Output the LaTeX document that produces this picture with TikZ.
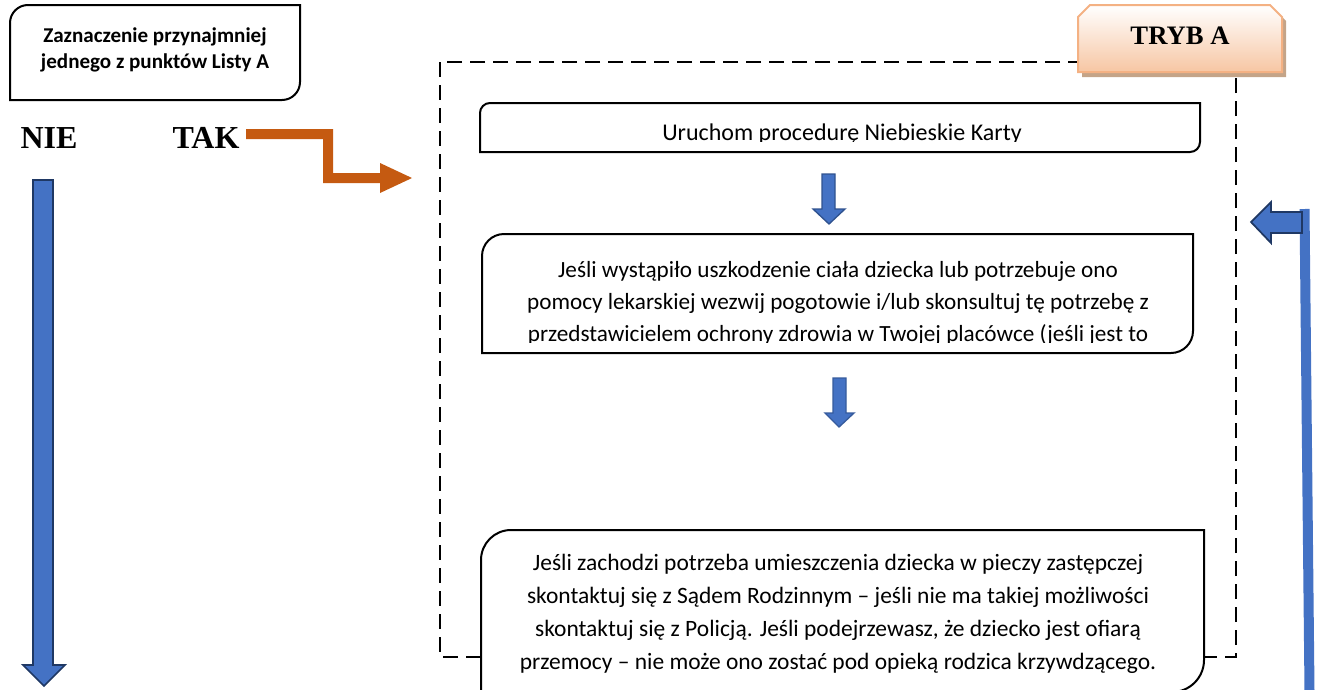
\documentclass[tikz,border=0pt]{standalone}
\usepackage{fontspec}
\setmainfont{Carlito}
\newfontfamily\tnr{Liberation Serif}
\definecolor{arrowblue}{HTML}{4472C4}
\definecolor{arrowdark}{HTML}{1F3864}
\definecolor{arrowmid}{HTML}{2F528F}
\definecolor{orangearr}{HTML}{C55A11}
\definecolor{peach}{HTML}{F7C6A3}
\definecolor{peachborder}{HTML}{F4B183}
\definecolor{shadowcol}{HTML}{C4A488}
\tikzset{
  boxline/.style={draw=black, line width=1.5pt, fill=white},
  bigarrow/.style={fill=arrowblue, draw=arrowdark, line width=1.3pt, line join=miter},
  smallarrow/.style={fill=arrowblue, draw=arrowmid, line width=1pt, line join=miter},
  txt/.style={align=center, inner sep=0pt},
  dashframe/.style={draw=black, line width=1.5pt, dash pattern=on 11.25pt off 6pt},
  yesno/.style={inner sep=0pt, font=\tnr\fontsize{24}{28}\selectfont\bfseries}
}
\begin{document}
\begin{tikzpicture}[x=0.75pt,y=-0.75pt]
\useasboundingbox (0,0) rectangle (1333,689);
\clip (0,0) rectangle (1333,689);

% dashed frame
\draw[dashframe] (440,62) rectangle (1236,657);

% top-left box
\draw[boxline] (10,100) -- (10,23) .. controls (10,13.06) and (18.06,5) .. (28,5) -- (300,5) -- (300,82) .. controls (300,91.94) and (291.94,100) .. (282,100) -- cycle;
\node[txt, font=\bfseries\fontsize{15.8}{19.5}\selectfont] (lista) at (155,50) {Zaznaczenie przynajmniej\\jednego z punktów Listy A};

% NIE / TAK
\node[yesno] (nie) at (49,138) {NIE};
\node[yesno] (tak) at (206,138) {TAK};

% orange arrow
\fill[orangearr] (246,129) -- (333,129) -- (333,173) -- (380,173) -- (380,163) -- (412,178) -- (380,193) -- (380,183) -- (323,183) -- (323,139) -- (246,139) -- cycle;

% left big blue arrow
\draw[bigarrow] (33,180) -- (53,180) -- (53,665) -- (65,665) -- (44,686) -- (23,665) -- (33,665) -- cycle;

% TRYB A label
\fill[shadowcol] (1082,77) -- (1082,21) -- (1094,9) -- (1274,9) -- (1286,21) -- (1286,77) -- cycle;
\path[draw=peachborder, line width=1.5pt, top color=white, bottom color=peach] (1078,72) -- (1078,17) -- (1090,5) -- (1270,5) -- (1282,17) -- (1282,72) -- cycle;
\node[inner sep=0pt, font=\tnr\fontsize{20}{24}\selectfont\bfseries] (tryb) at (1180,36) {TRYB A};

% box: Uruchom
\draw[boxline] (480,152) -- (480,113) .. controls (480,107.48) and (484.48,103) .. (490,103) -- (1200,103) -- (1200,142) .. controls (1200,147.52) and (1195.52,152) .. (1190,152) -- cycle;
\begin{scope}
\clip (480,103) rectangle (1200,141);
\node[txt, anchor=base, font=\fontsize{18}{22}\selectfont] (uruchom) at (842,140.5) {Uruchom procedurę Niebieskie Karty};
\end{scope}

% small arrow 1
\draw[smallarrow] (822,174) -- (835,174) -- (835,209) -- (845,209) -- (829,224) -- (813,209) -- (822,209) -- cycle;

% box: Jeśli wystąpiło
\draw[boxline] (482,353) -- (482,256) .. controls (482,243.86) and (491.86,234) .. (504,234) -- (1193,234) -- (1193,331) .. controls (1193,343.14) and (1183.14,353) .. (1171,353) -- cycle;
\begin{scope}
\clip (482,234) rectangle (1193,342);
\node[txt, font=\fontsize{17.4}{24}\selectfont] (uszkodzenie) at (838,303) {Jeśli wystąpiło uszkodzenie ciała dziecka lub potrzebuje ono\\pomocy lekarskiej wezwij pogotowie i/lub skonsultuj tę potrzebę z\\przedstawicielem ochrony zdrowia w Twojej placówce (jeśli jest to};
\end{scope}

% small arrow 2
\draw[smallarrow, draw=arrowblue!80!black] (833,378) -- (846,378) -- (846,413) -- (854,413) -- (839,427) -- (825,413) -- (833,413) -- cycle;

% box: Jeśli zachodzi
\draw[boxline] (481,692) -- (481,560) .. controls (481,543.44) and (494.44,530) .. (511,530) -- (1204,530) -- (1204,660) .. controls (1204,677.66) and (1189.66,692) .. (1172,692) -- cycle;
\node[txt, font=\fontsize{17.6}{24.75}\selectfont] (piecza) at (838,614) {Jeśli zachodzi potrzeba umieszczenia dziecka w pieczy zastępczej\\skontaktuj się z Sądem Rodzinnym – jeśli nie ma takiej możliwości\\skontaktuj się z Policją. Jeśli podejrzewasz, że dziecko jest ofiarą\\przemocy – nie może ono zostać pod opieką rodzica krzywdzącego.};

% right return line and arrow
\coordinate (rtop) at (1304.5,209);
\coordinate (rbot) at (1309.5,692);
\draw[arrowblue, line width=7.5pt] (rbot) -- (rtop);
\draw[bigarrow] (1302,212) -- (1271,212) -- (1271,202) -- (1251,222) -- (1271,243) -- (1271,233) -- (1302,233) -- cycle;
\end{tikzpicture}
\end{document}
